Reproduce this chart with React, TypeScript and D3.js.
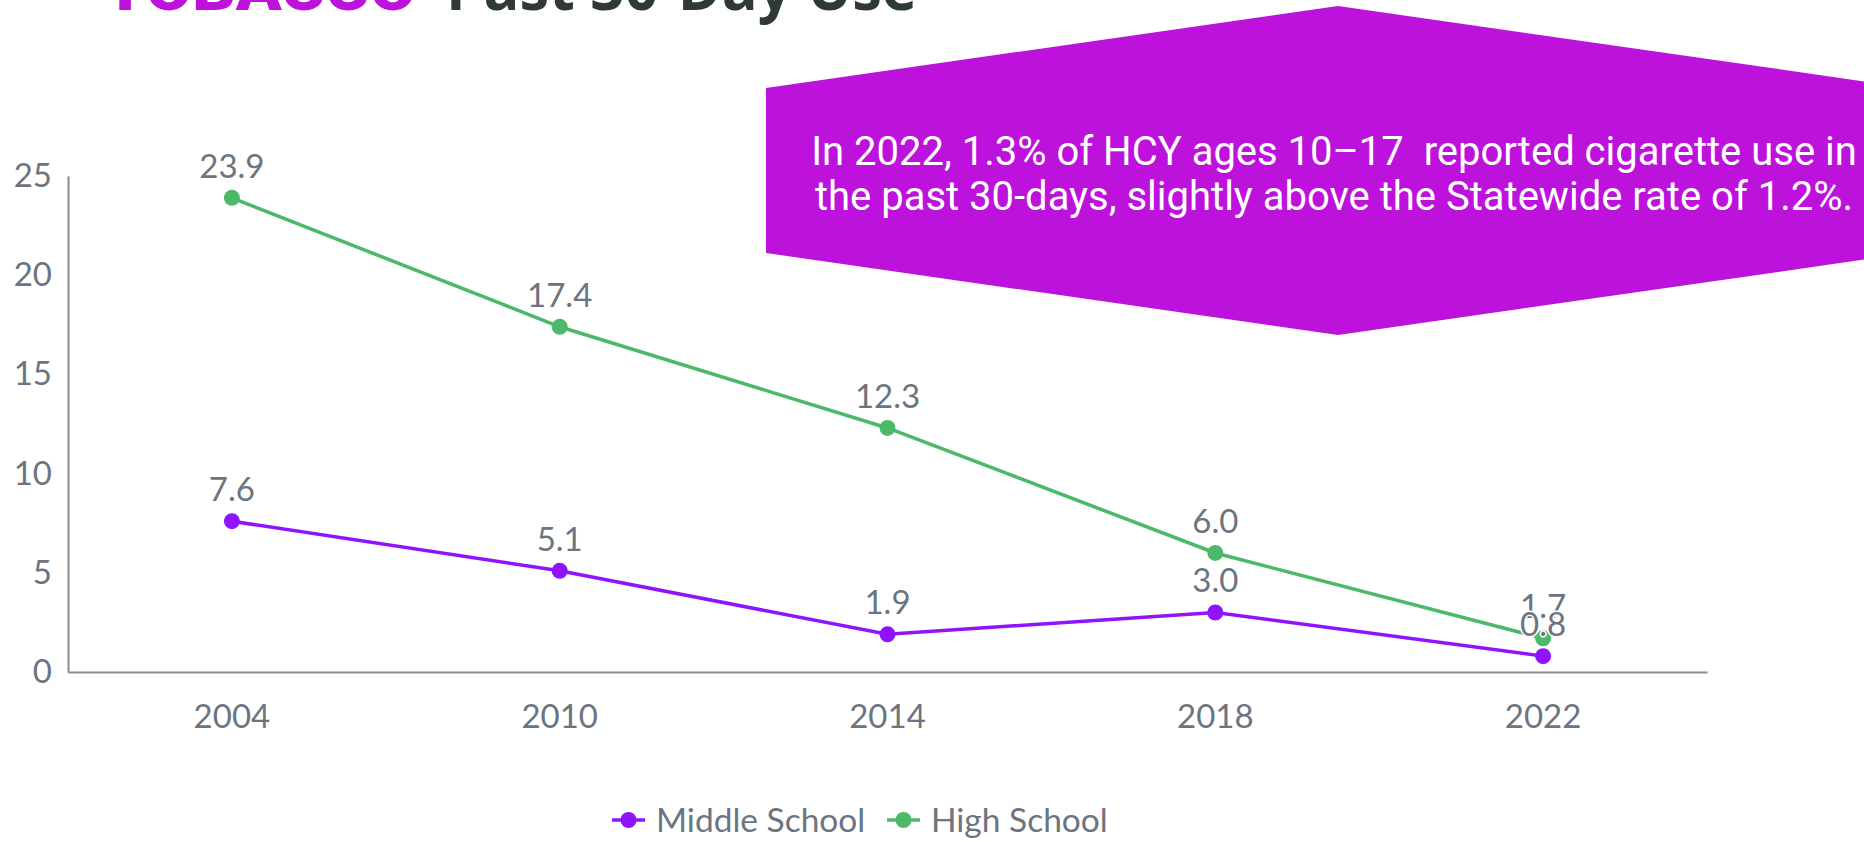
import React, { useEffect, useRef } from 'react';
import * as d3 from 'd3';

// chart data
const years = ['2004', '2010', '2014', '2018', '2022'];
const middleSchool = [7.6, 5.1, 1.9, 3.0, 0.8];
const highSchool = [23.9, 17.4, 12.3, 6.0, 1.7];
const yTicks = [0, 5, 10, 15, 20, 25];
const seriesNames = ['Middle School', 'High School'];
const calloutLines = [
  'In 2022, 1.3% of HCY ages 10\u201317  reported cigarette use in',
  'the past 30-days, slightly above the Statewide rate of 1.2%.',
];

const W = 1864;
const H = 842;
const PURPLE = '#9013FE';
const GREEN = '#4CB96A';
const MAGENTA = '#BD12DC';
const GREY = '#6B7480';
const FS = 33;

const App = () => {
  const ref = useRef<SVGSVGElement>(null);

  useEffect(() => {
    const svg = d3.select(ref.current);
    svg.selectAll('*').remove();

    // title (mostly cut off at the top of the frame)
    svg.append('text')
      .attr('x', 104).attr('y', 10)
      .attr('textLength', 312).attr('lengthAdjust', 'spacingAndGlyphs')
      .attr('font-family', 'Roboto').attr('font-weight', 900).attr('font-size', 62)
      .attr('fill', MAGENTA).text('TOBACCO');
    svg.append('text')
      .attr('x', 446).attr('y', 10)
      .attr('textLength', 471).attr('lengthAdjust', 'spacingAndGlyphs')
      .attr('font-family', 'Open Sans').attr('font-weight', 700).attr('font-size', 62)
      .attr('fill', '#2F3A36').text('Past 30-Day Use');

    // scales
    const x = d3.scaleBand().domain(years).range([68, 1707]);
    const y = d3.scaleLinear().domain([0, 25]).range([672, 176]);
    const cx = (d: string) => (x(d) as number) + x.bandwidth() / 2;

    // axes
    const yAxis = svg.append('g').attr('transform', 'translate(68,0)')
      .call(d3.axisLeft(y).tickValues(yTicks).tickSize(0).tickSizeOuter(0).tickPadding(16));
    const xAxis = svg.append('g').attr('transform', 'translate(0,672)')
      .call(d3.axisBottom(x).tickSize(0).tickSizeOuter(0).tickPadding(33));
    [yAxis, xAxis].forEach(g => {
      g.select('.domain').attr('stroke', '#858C95').attr('stroke-width', 2);
      g.selectAll('text')
        .attr('font-family', 'Lato').attr('font-size', FS).attr('fill', GREY);
    });

    // callout shape
    const poly: [number, number][] = [
      [766, 88], [1338, 6], [1910, 88], [1910, 253], [1338, 335], [766, 253],
    ];
    svg.append('polygon')
      .attr('points', poly.map(p => p.join(',')).join(' '))
      .attr('fill', MAGENTA);
    calloutLines.forEach((t, i) => {
      svg.append('text')
        .attr('x', 1334).attr('y', 165 + i * 45)
        .attr('text-anchor', 'middle')
        .style('white-space', 'pre')
        .attr('font-family', 'Roboto').attr('font-size', 40)
        .attr('fill', '#fff').text(t);
    });

    // lines + markers
    const series = [
      { name: seriesNames[0], values: middleSchool, color: PURPLE },
      { name: seriesNames[1], values: highSchool, color: GREEN },
    ];
    const line = d3.line<number>()
      .x((d, i) => cx(years[i]))
      .y(d => y(d));

    series.forEach(s => {
      svg.append('path')
        .attr('d', line(s.values))
        .attr('fill', 'none').attr('stroke', s.color).attr('stroke-width', 3.5);
      svg.selectAll(null).data(s.values).enter().append('circle')
        .attr('cx', (d, i) => cx(years[i]))
        .attr('cy', d => y(d))
        .attr('r', 8)
        .attr('fill', s.color);
    });

    // data labels (high school first so middle school sits on top)
    [series[1], series[0]].forEach(s => {
      svg.selectAll(null).data(s.values).enter().append('text')
        .attr('x', (d, i) => cx(years[i]))
        .attr('y', d => y(d) - 20)
        .attr('text-anchor', 'middle')
        .attr('font-family', 'Lato').attr('font-size', FS)
        .attr('fill', GREY)
        .attr('stroke', '#fff').attr('stroke-width', 3).attr('paint-order', 'stroke')
        .text(d => d.toFixed(1));
    });

    // legend
    const legendX = [612, 887];
    series.forEach((s, i) => {
      const g = svg.append('g').attr('transform', `translate(${legendX[i]},820)`);
      g.append('line').attr('x1', 0).attr('x2', 33).attr('stroke', s.color).attr('stroke-width', 3.5);
      g.append('circle').attr('cx', 16.5).attr('r', 8).attr('fill', s.color);
      g.append('text').attr('x', 44).attr('y', 11.5)
        .attr('font-family', 'Lato').attr('font-size', 33.5).attr('fill', GREY)
        .text(s.name);
    });
  }, []);

  return (
    <svg ref={ref} width={W} height={H}
      style={{ position: 'absolute', left: 0, top: 0, background: '#fff' }} />
  );
};

export default App;
